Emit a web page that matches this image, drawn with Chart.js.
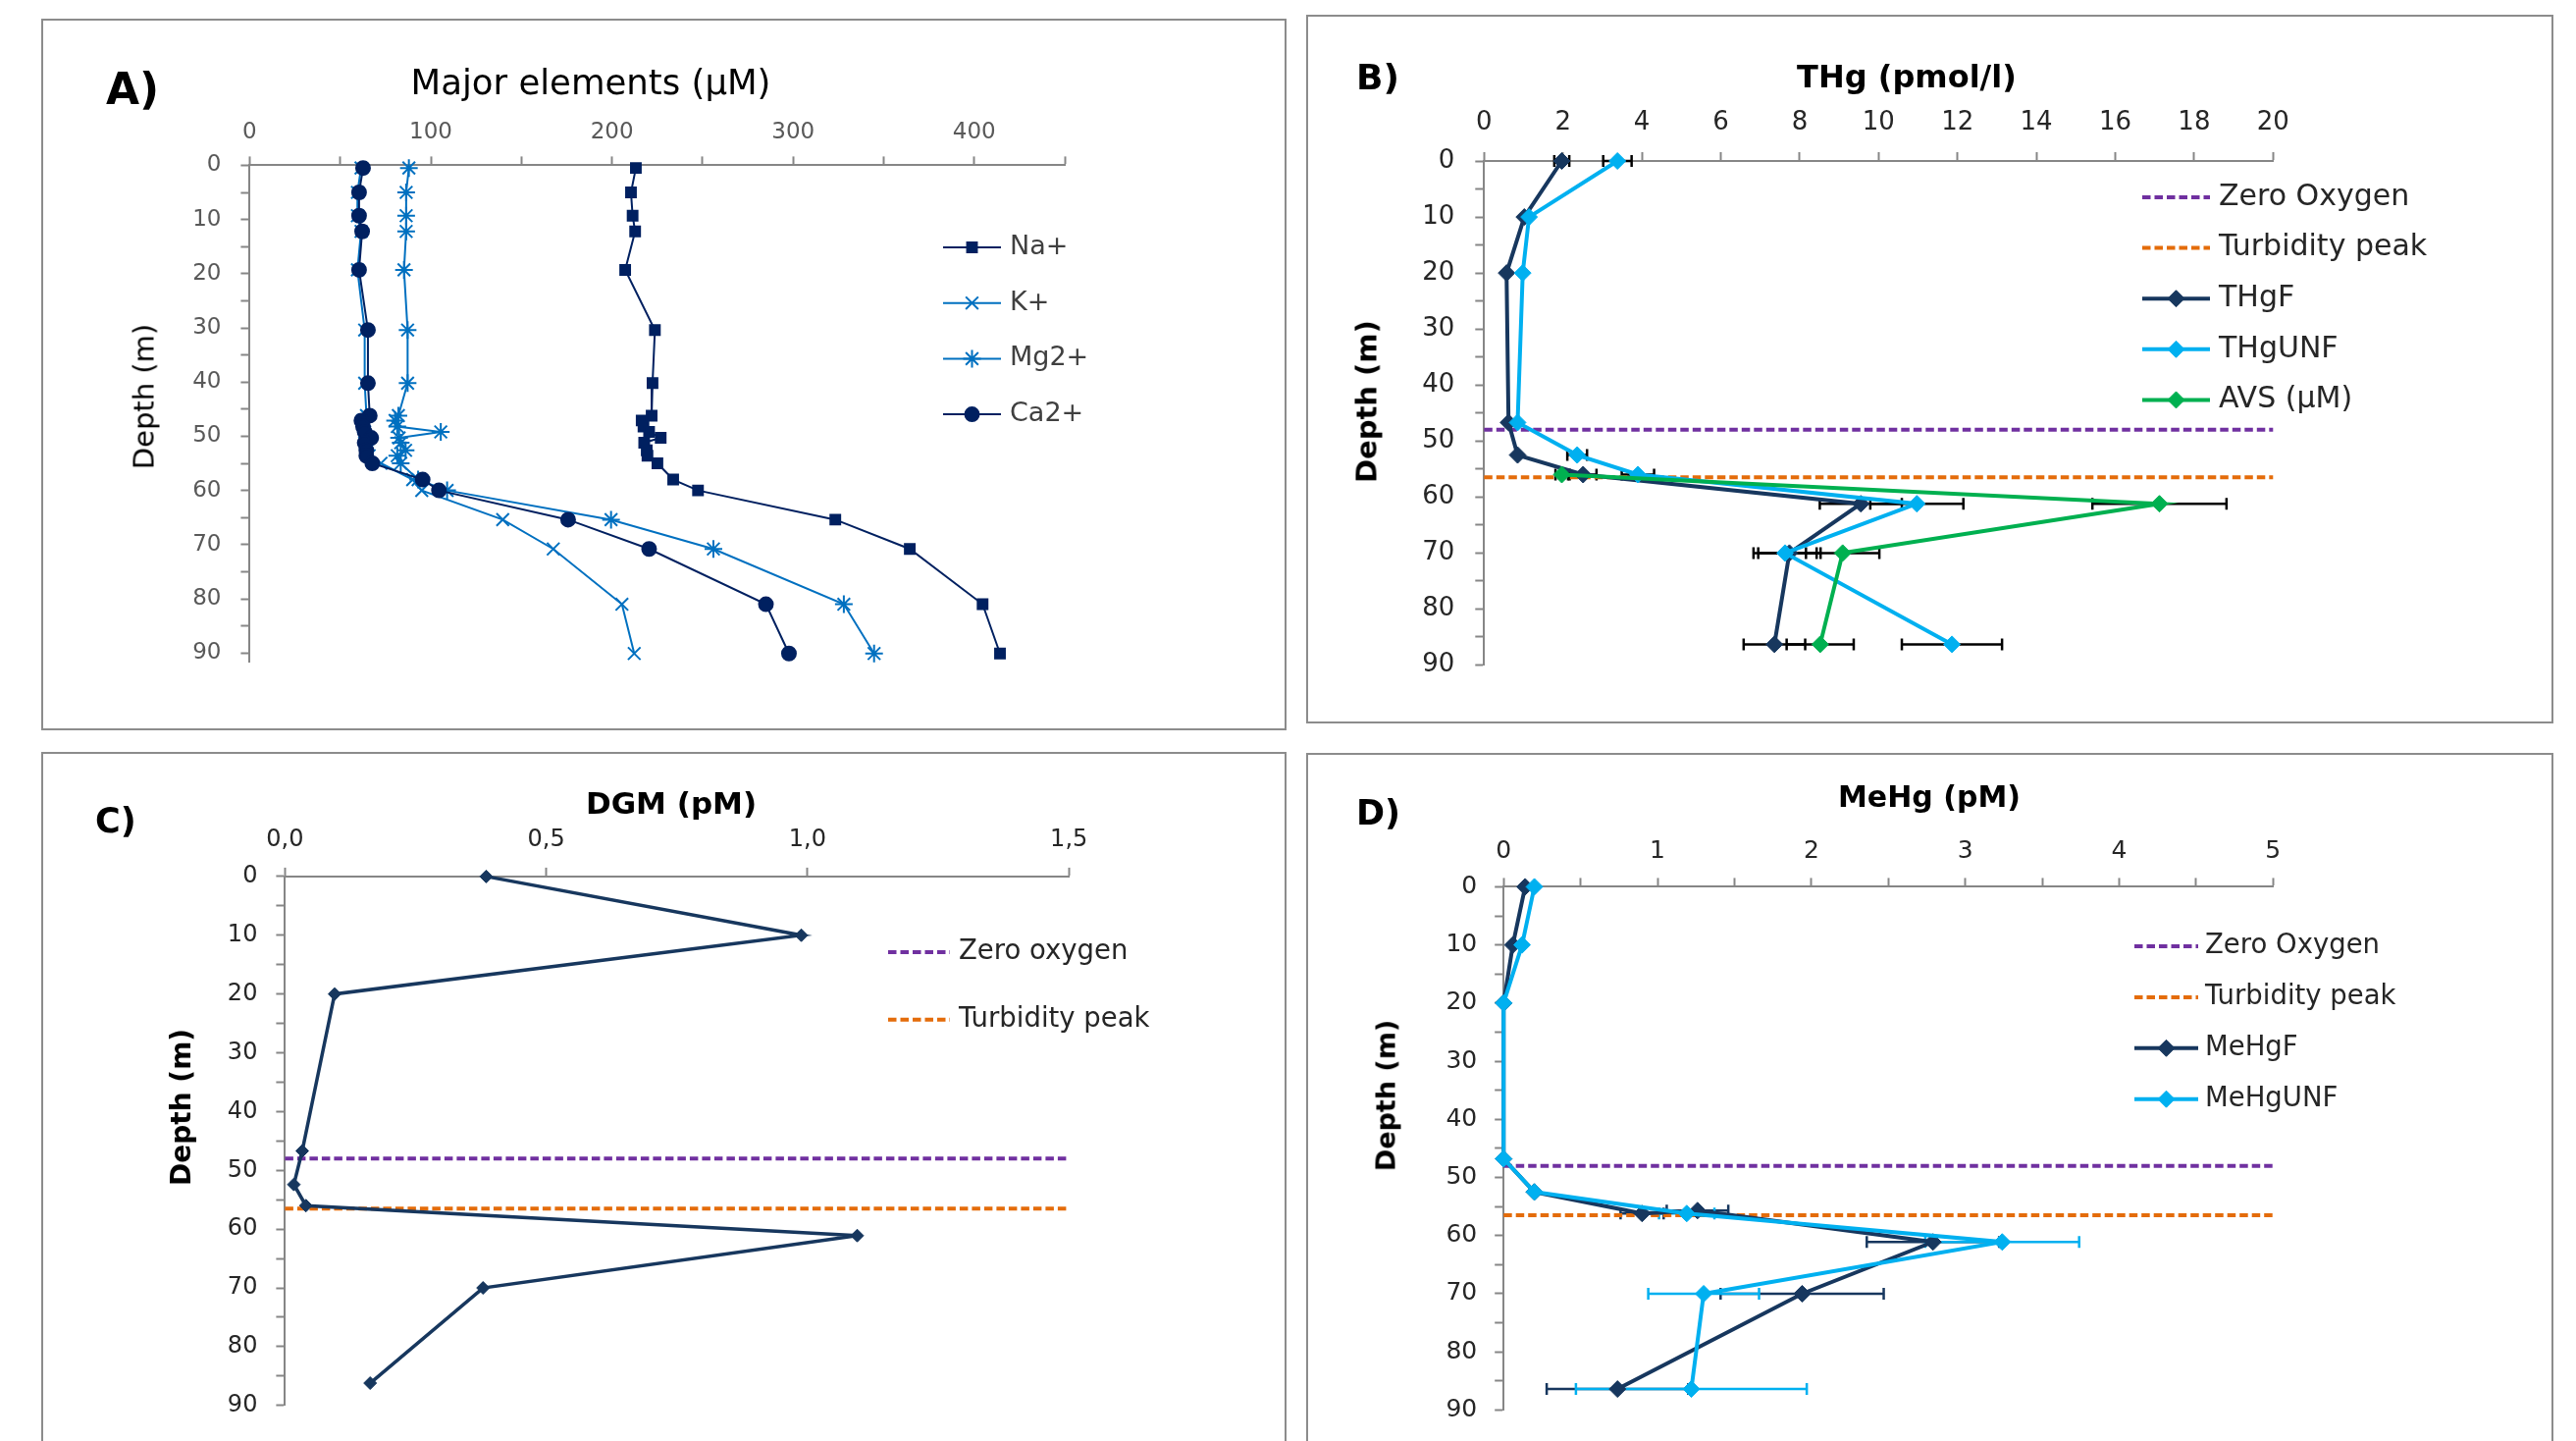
<!DOCTYPE html>
<html>
<head>
<meta charset="utf-8">
<script src="https://cdn.jsdelivr.net/npm/chart.js@4.4.0/dist/chart.umd.min.js"></script>
<style>
  body { margin: 0; background: #fff; width: 2625px; height: 1468px; position: relative; overflow: hidden; font-family: "DejaVu Sans", sans-serif; color: #000; }
  .frame { position: absolute; border: 2px solid #8c8c8c; box-sizing: border-box; }
  canvas { position: absolute; }
  .txt { position: absolute; white-space: nowrap; line-height: 1; }
  .letter { font-weight: bold; transform: translate(0, -50%); }
  .title { transform: translate(-50%, -50%); }
  .ytitle { transform: translate(-50%, -50%) rotate(-90deg); }
</style>
</head>
<body>

<div class="frame" style="left:42px;top:19px;width:1269px;height:725px"></div>
<div class="frame" style="left:1331px;top:15px;width:1271px;height:722px"></div>
<div class="frame" style="left:42px;top:766px;width:1269px;height:730px"></div>
<div class="frame" style="left:1331px;top:767px;width:1271px;height:730px"></div>

<canvas id="chartA"></canvas>
<canvas id="chartB"></canvas>
<canvas id="chartC"></canvas>
<canvas id="chartD"></canvas>

<div class="txt letter" style="left:108px;top:91px;font-size:44px">A)</div>
<div class="txt title" style="left:602px;top:84px;font-size:35.5px">Major elements (µM)</div>
<div class="txt ytitle" style="left:147px;top:404px;font-size:29px">Depth (m)</div>

<div class="txt letter" style="left:1382px;top:79px;font-size:36px">B)</div>
<div class="txt title" style="left:1943px;top:78px;font-size:32px;font-weight:bold">THg (pmol/l)</div>
<div class="txt ytitle" style="left:1393px;top:409px;font-size:29px;font-weight:bold">Depth (m)</div>

<div class="txt letter" style="left:97px;top:836px;font-size:35px">C)</div>
<div class="txt title" style="left:684px;top:818px;font-size:31px;font-weight:bold">DGM (pM)</div>
<div class="txt ytitle" style="left:185px;top:1128px;font-size:28px;font-weight:bold">Depth (m)</div>

<div class="txt letter" style="left:1382px;top:828px;font-size:35px">D)</div>
<div class="txt title" style="left:1966px;top:812px;font-size:30px;font-weight:bold">MeHg (pM)</div>
<div class="txt ytitle" style="left:1412px;top:1116px;font-size:27px;font-weight:bold">Depth (m)</div>

<script>
// ---------- DATA ----------
// A) major elements (µM) vs depth (m)
const depthA = [0.5, 5, 9.3, 12.2, 19.3, 30.4, 40.2, 46.2, 47.1, 48.2, 49.2, 50.3, 51.2, 52.6, 53.6, 55.0, 58.0, 60.0, 65.4, 70.8, 81.0, 90.1];
const naA = [213.2, 210.5, 211.4, 212.8, 207.3, 223.7, 222.4, 221.9, 216.4, 217.4, 220.5, 226.9, 217.8, 219.2, 219.6, 225.1, 233.8, 247.5, 323.3, 364.4, 404.6, 414.2];
const kA  = [61.5, 59.5, 59.5, 61.5, 59.5, 63.5, 63.5, 64.5, 62.5, 63.0, 63.5, 65.5, 64.0, 65.0, 66.0, 72.5, 90.0, 95.0, 139.7, 167.6, 205.5, 212.3];
const mgA = [87.9, 86.4, 86.4, 86.4, 85.2, 87.2, 87.2, 82.1, 80.3, 81.5, 105.5, 82.5, 83.4, 86.1, 81.5, 83.4, 93.0, 109.0, 199.5, 256.0, 328.0, 344.7];
const caA = [62.6, 60.4, 60.4, 62.1, 60.4, 65.3, 65.3, 66.3, 61.7, 62.6, 63.5, 67.1, 63.5, 64.4, 64.4, 67.7, 95.5, 104.5, 175.8, 220.5, 285.0, 297.7];

// B) THg (pmol/l) and AVS (µM)
const depthB = [0, 10, 20, 46.7, 52.5, 56, 61.2, 70, 86.3];
const thgF = [1.97, 1.02, 0.57, 0.62, 0.85, 2.51, 9.55, 7.74, 7.36];
const thgFErr = [0.19, 0, 0, 0, 0, 0.34, 1.04, 0.79, 0.78];
const thgUNF = [3.38, 1.14, 0.98, 0.85, 2.36, 3.9, 10.97, 7.63, 11.86];
const thgUNFErr = [0.36, 0, 0, 0, 0.25, 0.41, 1.18, 0.8, 1.27];
const depthAVS = [56, 61.2, 70, 86.3];
const avs = [1.97, 17.12, 9.09, 8.52];
const avsErr = [0.16, 1.7, 0.93, 0.85];

// C) DGM (pM)
const depthC = [0, 10, 20, 46.7, 52.4, 56, 61.1, 70, 86.2];
const dgm = [0.385, 0.988, 0.095, 0.033, 0.017, 0.04, 1.095, 0.379, 0.163];

// D) MeHg (pM)
const depthMeF = [0, 10, 20, 46.8, 52.5, 56.2, 55.7, 61.1, 70, 86.4];
const meHgF = [0.14, 0.06, 0, 0, 0.2, 0.9, 1.26, 2.79, 1.94, 0.74];
const meHgFErr = [0, 0, 0, 0, 0, 0.14, 0.2, 0.43, 0.53, 0.46];
const depthMeUNF = [0, 10, 20, 46.8, 52.5, 56.2, 61.1, 70, 86.4];
const meHgUNF = [0.2, 0.12, 0, 0, 0.2, 1.19, 3.24, 1.3, 1.22];
const meHgUNFErr = [0, 0, 0, 0, 0, 0.18, 0.5, 0.36, 0.75];

// reference depths (m)
const zeroOxygen = 48;
const turbidityPeak = 56.5;

// ---------- COLOURS ----------
const NAVY = "#002060", BLUE = "#0070C0";
const DARK = "#17375E", CYAN = "#00B0F0", GREEN = "#00B050";
const PURPLE = "#7030A0", ORANGE = "#E46C0A", AXIS = "#868686";

// ---------- HELPERS ----------
function pts(xs, ys) {
  return xs.map((v, i) => ({ x: v, y: ys[i] }));
}

function series(label, xs, depth, color, style) {
  return Object.assign({
    label,
    data: pts(xs, depth),
    showLine: true,
    borderColor: color,
    backgroundColor: color,
    pointBackgroundColor: color,
    pointBorderColor: color,
    clip: false,
  }, style);
}

function refLine(label, depth, xmax, color) {
  return {
    label,
    data: [{ x: 0, y: depth }, { x: xmax, y: depth }],
    showLine: true,
    borderColor: color,
    borderWidth: 4,
    borderDash: [8.5, 4],
    pointRadius: 0,
    clip: false,
  };
}

const isMult = (v, m) => Math.abs(v / m - Math.round(v / m)) < 1e-6;

// horizontal error bars under the markers
const errorBars = {
  id: "errorBars",
  beforeDatasetsDraw(chart) {
    const { ctx, scales: { x, y } } = chart;
    chart.data.datasets.forEach((ds) => {
      if (!ds.errors) return;
      ctx.save();
      ctx.strokeStyle = ds.errorColor;
      ctx.lineWidth = ds.errorWidth || 2.5;
      ds.data.forEach((p, j) => {
        const e = ds.errors[j];
        if (!e) return;
        const py = y.getPixelForValue(p.y);
        const x1 = x.getPixelForValue(p.x - e);
        const x2 = x.getPixelForValue(p.x + e);
        ctx.beginPath();
        ctx.moveTo(x1, py); ctx.lineTo(x2, py);
        ctx.moveTo(x1, py - 6); ctx.lineTo(x1, py + 6);
        ctx.moveTo(x2, py - 6); ctx.lineTo(x2, py + 6);
        ctx.stroke();
      });
      ctx.restore();
    });
  },
};

// legend drawn inside the panel, one row per dataset (unless noLegend)
const panelLegend = {
  id: "panelLegend",
  afterDraw(chart, args, o) {
    const ctx = chart.ctx;
    chart.data.datasets.filter((ds) => !ds.noLegend).forEach((ds, i) => {
      const y = o.y + i * o.dy;
      ctx.save();
      ctx.strokeStyle = ds.borderColor;
      ctx.lineWidth = ds.borderWidth;
      ctx.setLineDash(ds.borderDash || []);
      ctx.beginPath();
      ctx.moveTo(o.x0, y);
      ctx.lineTo(o.x1, y);
      ctx.stroke();
      ctx.setLineDash([]);
      if (ds.pointRadius) {
        ctx.fillStyle = ds.pointBackgroundColor;
        ctx.strokeStyle = ds.pointBorderColor;
        ctx.lineWidth = ds.pointBorderWidth;
        Chart.helpers.drawPoint(ctx, {
          pointStyle: ds.pointStyle, radius: ds.pointRadius, rotation: 0, borderWidth: ds.pointBorderWidth,
        }, (o.x0 + o.x1) / 2, y);
      }
      ctx.font = o.font;
      ctx.fillStyle = o.color;
      ctx.textBaseline = "middle";
      ctx.fillText(ds.label, o.tx, y);
      ctx.restore();
    });
  },
};

// box = panel frame on the page, area = plot area on the page
function makePanel(id, box, area, cfg) {
  const c = document.getElementById(id);
  c.width = box.w;
  c.height = box.h;
  c.style.left = box.l + "px";
  c.style.top = box.t + "px";
  const Wy = 100, Hx = 70;
  const n = cfg.datasets.length;
  cfg.datasets.forEach((d, i) => { d.order = n - i; });

  const lg = cfg.legend;
  return new Chart(c, {
    type: "scatter",
    data: { datasets: cfg.datasets },
    plugins: [errorBars, panelLegend],
    options: {
      responsive: false,
      animation: false,
      devicePixelRatio: 1,
      layout: {
        padding: {
          left: area.l - box.l - Wy,
          top: area.t - box.t - Hx,
          right: box.l + box.w - area.r,
          bottom: box.t + box.h - area.b,
        },
      },
      plugins: {
        legend: { display: false },
        tooltip: { enabled: false },
        panelLegend: {
          x0: lg.x0 - box.l, x1: lg.x1 - box.l, tx: lg.tx - box.l,
          y: lg.y - box.t, dy: lg.dy, font: lg.font, color: lg.color,
        },
      },
      scales: {
        x: {
          type: "linear",
          position: "top",
          min: 0,
          max: cfg.xMax,
          afterFit: (s) => { s.height = Hx; },
          ticks: {
            stepSize: cfg.xStep,
            autoSkip: false,
            maxRotation: 0,
            padding: cfg.xPad,
            color: cfg.tickColor,
            font: { family: "DejaVu Sans", size: cfg.tickSize },
            callback: cfg.xLabel,
          },
          grid: { drawOnChartArea: false, tickLength: 9, tickWidth: 2, tickColor: AXIS },
          border: { color: AXIS, width: 2 },
        },
        y: {
          type: "linear",
          reverse: true,
          min: 0,
          max: cfg.yMax,
          afterFit: (s) => { s.width = Wy; },
          ticks: {
            stepSize: 5,
            includeBounds: false,
            autoSkip: false,
            padding: cfg.yPad,
            color: cfg.tickColor,
            font: { family: "DejaVu Sans", size: cfg.tickSize },
            callback: (v) => (isMult(v, 10) ? v : ""),
          },
          grid: { drawOnChartArea: false, tickLength: 9, tickWidth: 2, tickColor: AXIS },
          border: { color: AXIS, width: 2 },
        },
      },
    },
  });
}

// ---------- PANEL A ----------
const thinA = { borderWidth: 2, pointBorderWidth: 2 };
makePanel("chartA",
  { l: 42, t: 19, w: 1269, h: 725 },
  { l: 254.4, t: 168.4, r: 1085.1, b: 674.6 },
  {
    xMax: 450, xStep: 50, yMax: 91.7, xPad: 11, yPad: 20, tickSize: 23, tickColor: "#595959",
    xLabel: (v) => (isMult(v, 100) ? v : ""),
    legend: { x0: 961, x1: 1020, tx: 1029, y: 252, dy: 56.7, font: "27px 'DejaVu Sans'", color: "#404040" },
    datasets: [
      series("Na+", naA, depthA, NAVY, Object.assign({ pointStyle: "rect", pointRadius: 7 }, thinA)),
      series("K+", kA, depthA, BLUE, Object.assign({ pointStyle: "crossRot", pointRadius: 9 }, thinA)),
      series("Mg2+", mgA, depthA, BLUE, Object.assign({ pointStyle: "star", pointRadius: 9 }, thinA)),
      series("Ca2+", caA, depthA, NAVY, Object.assign({ pointStyle: "circle", pointRadius: 7 }, thinA)),
    ],
  });

// ---------- PANEL B ----------
const thickB = { borderWidth: 4, pointStyle: "rectRot", pointRadius: 8.5, pointBorderWidth: 1 };
makePanel("chartB",
  { l: 1331, t: 15, w: 1271, h: 722 },
  { l: 1512.3, t: 164, r: 2316.3, b: 677.5 },
  {
    xMax: 20, xStep: 2, yMax: 90, xPad: 14, yPad: 21, tickSize: 26, tickColor: "#262626",
    xLabel: (v) => v,
    legend: { x0: 2183, x1: 2252, tx: 2261, y: 201, dy: 51.6, font: "30px 'DejaVu Sans'", color: "#262626" },
    datasets: [
      refLine("Zero Oxygen", zeroOxygen, 20, PURPLE),
      refLine("Turbidity peak", turbidityPeak, 20, ORANGE),
      series("THgF", thgF, depthB, DARK, Object.assign({ errors: thgFErr, errorColor: "#000" }, thickB)),
      series("THgUNF", thgUNF, depthB, CYAN, Object.assign({ errors: thgUNFErr, errorColor: "#000" }, thickB)),
      series("AVS (µM)", avs, depthAVS, GREEN, Object.assign({ errors: avsErr, errorColor: "#000" }, thickB)),
    ],
  });

// ---------- PANEL C ----------
makePanel("chartC",
  { l: 42, t: 766, w: 1269, h: 710 },
  { l: 290.4, t: 892.9, r: 1089.2, b: 1431.8 },
  {
    xMax: 1.5, xStep: 0.5, yMax: 90, xPad: 14, yPad: 19, tickSize: 24, tickColor: "#262626",
    xLabel: (v) => v.toFixed(1).replace(".", ","),
    legend: { x0: 905, x1: 968, tx: 977, y: 970, dy: 68.7, font: "27.5px 'DejaVu Sans'", color: "#262626" },
    datasets: [
      refLine("Zero oxygen", zeroOxygen, 1.5, PURPLE),
      refLine("Turbidity peak", turbidityPeak, 1.5, ORANGE),
      series("DGM", dgm, depthC, DARK, { borderWidth: 3.5, pointStyle: "rectRot", pointRadius: 6.5, pointBorderWidth: 1, noLegend: true }),
    ],
  });

// ---------- PANEL D ----------
makePanel("chartD",
  { l: 1331, t: 767, w: 1271, h: 710 },
  { l: 1532.2, t: 903.4, r: 2316.3, b: 1436.4 },
  {
    xMax: 5, xStep: 0.5, yMax: 90, xPad: 12, yPad: 18, tickSize: 25, tickColor: "#262626",
    xLabel: (v) => (isMult(v, 1) ? v : ""),
    legend: { x0: 2175, x1: 2240, tx: 2247, y: 964, dy: 51.9, font: "27.5px 'DejaVu Sans'", color: "#262626" },
    datasets: [
      refLine("Zero Oxygen", zeroOxygen, 5, PURPLE),
      refLine("Turbidity peak", turbidityPeak, 5, ORANGE),
      series("MeHgF", meHgF, depthMeF, DARK, Object.assign({ errors: meHgFErr, errorColor: DARK }, thickB)),
      series("MeHgUNF", meHgUNF, depthMeUNF, CYAN, Object.assign({ errors: meHgUNFErr, errorColor: CYAN }, thickB)),
    ],
  });
</script>
</body>
</html>
